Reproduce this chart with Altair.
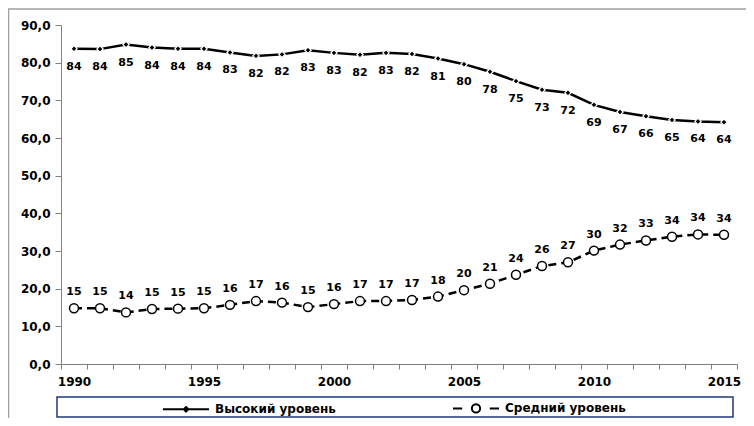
import altair as alt
import pandas as pd

years = list(range(1990, 2016))
high = [83.7, 83.6, 84.8, 84.0, 83.7, 83.7, 82.7, 81.8, 82.2, 83.3, 82.6, 82.1, 82.6,
        82.3, 81.1, 79.6, 77.6, 75.1, 72.8, 72.0, 68.8, 66.9, 65.8, 64.8, 64.4, 64.2]
mid = [14.8, 14.8, 13.7, 14.6, 14.7, 14.8, 15.7, 16.7, 16.3, 15.1, 15.9, 16.7, 16.7,
       17.0, 17.9, 19.6, 21.3, 23.7, 26.0, 27.0, 30.1, 31.7, 32.8, 33.8, 34.4, 34.3]
series_names = ["Высокий уровень", "Средний уровень"]
y_ticks = [0, 10, 20, 30, 40, 50, 60, 70, 80, 90]

FONT = "DejaVu Sans"
W, H = 676, 339
band = W / len(years)

rows = []
for name, vals in zip(series_names, [high, mid]):
    for yr, v in zip(years, vals):
        rows.append({"year": yr, "value": v, "series": name})
df = pd.DataFrame(rows)

tick_pos = [y - 0.5 for y in years] + [years[-1] + 0.5]

x_enc = alt.X(
    "year:Q",
    scale=alt.Scale(domain=[years[0] - 0.5, years[-1] + 0.5], nice=False, zero=False),
    axis=alt.Axis(
        values=tick_pos, title=None, grid=False,
        labelExpr="(datum.value + 0.5) % 5 == 0 ? '' + (datum.value + 0.5) : ''",
        labelOffset=band / 2, labelFlush=False, labelOverlap=False, labelBound=False,
        tickSize=5, tickColor="#808080", domainColor="#808080", tickWidth=1,
        labelFont=FONT, labelFontSize=12, labelFontWeight="bold", labelColor="black",
        labelPadding=7,
    ),
)
y_scale = alt.Scale(domain=[0, 90], nice=False)
y_axis = alt.Axis(
    values=y_ticks, title=None, grid=False,
    labelExpr="replace(format(datum.value, '.1f'), '.', ',')",
    tickSize=6, tickColor="#808080", domainColor="#808080",
    labelFont=FONT, labelFontSize=12, labelFontWeight="bold", labelColor="black",
    labelPadding=5, labelOverlap=False,
)
y_enc = alt.Y("value:Q", scale=y_scale, axis=y_axis)

base = alt.Chart(df).encode(x=x_enc, y=y_enc)
high_base = base.transform_filter(alt.datum.series == series_names[0])
mid_base = base.transform_filter(alt.datum.series == series_names[1])

box_df = pd.DataFrame({"k": [0]})
outer = alt.Chart(box_df).mark_rect(fill=None, stroke="#a0a0a0", strokeWidth=1.5).encode(
    x=alt.value(-52.5), x2=alt.value(W + 60), y=alt.value(-16), y2=alt.value(H + 120)
)
legend_box = alt.Chart(box_df).mark_rect(fill=None, stroke="#1f3a78", strokeWidth=1.5).encode(
    x=alt.value(-4), x2=alt.value(672), y=alt.value(372), y2=alt.value(392)
)

line_high = high_base.mark_line(color="black", strokeWidth=2.5)
line_mid = mid_base.mark_line(color="black", strokeWidth=2.5, strokeDash=[8, 5])

PATH_H = "M-1,0H1M0,-0.1L0.1,0L0,0.1L-0.1,0Z"
PATH_M = "M-1,0H-0.6M0.6,0H1M0.18,0A0.18,0.18,0,1,1,-0.18,0A0.18,0.18,0,1,1,0.18,0Z"

pts_high = high_base.mark_point(
    shape="diamond", filled=True, fill="black", stroke="white", strokeWidth=1.2, size=40, opacity=1
)
pts_mid = mid_base.mark_point(
    shape="circle", filled=True, fill="white", stroke="black", strokeWidth=1.5, size=80, opacity=1
)

# legend-only layer: its own marks fall outside the plot and are clipped away
legend_layer = alt.Chart(df).mark_point(filled=False, color="black", strokeWidth=2, clip=True).encode(
    x=x_enc,
    y=alt.YDatum(-100, scale=y_scale, axis=y_axis),
    shape=alt.Shape(
        "series:N",
        scale=alt.Scale(domain=series_names, range=[PATH_H, PATH_M]),
        legend=alt.Legend(
            title=None, orient="none", legendX=101, legendY=359, direction="horizontal",
            symbolSize=2116, symbolStrokeWidth=2, symbolStrokeColor="black",
            symbolFillColor="white", symbolOpacity=1,
            labelFont=FONT, labelFontSize=12, labelFontWeight="bold", labelColor="black",
            labelLimit=400, columnPadding=113, padding=0, labelOffset=5,
        ),
    ),
)

text_high = high_base.mark_text(
    dy=18, font=FONT, fontSize=11, fontWeight="bold", color="black"
).encode(text=alt.Text("value:Q", format=".0f"))
text_mid = mid_base.mark_text(
    dy=-16, font=FONT, fontSize=11, fontWeight="bold", color="black"
).encode(text=alt.Text("value:Q", format=".0f"))

chart = alt.layer(outer, legend_box, line_high, line_mid, pts_high, pts_mid, legend_layer,
                  text_high, text_mid).properties(
    width=W, height=H,
    padding={"left": 53, "top": 17, "right": 9, "bottom": 54},
    autosize=alt.AutoSizeParams(type="none"),
    background="white",
).configure_view(stroke=None)

chart.save("out.html", embed_options={"renderer": "svg", "actions": False})
